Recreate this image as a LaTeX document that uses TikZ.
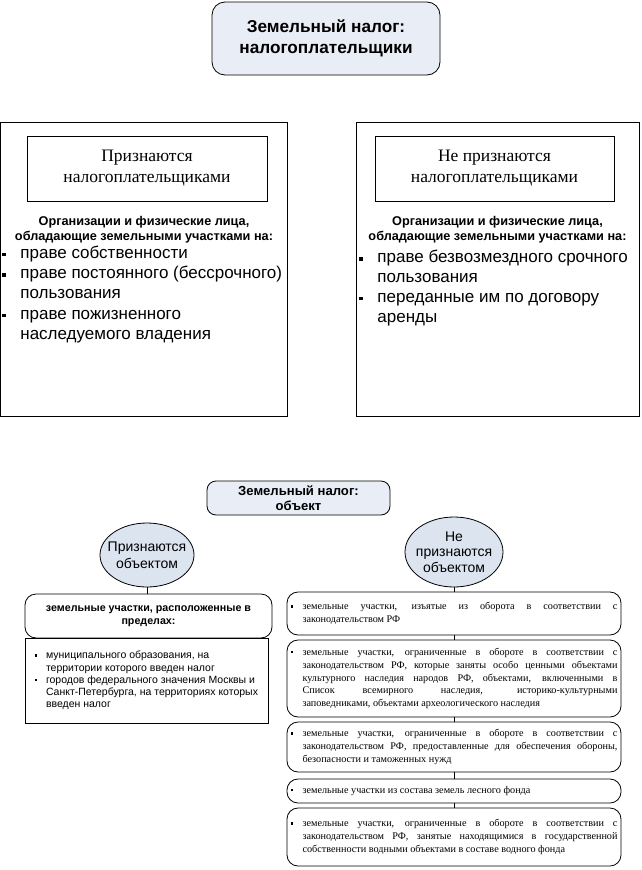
\documentclass[tikz,border=0pt]{standalone}
\usepackage{fontspec}
\setmainfont{Liberation Serif}
\setsansfont{Liberation Sans}
\usetikzlibrary{shapes.geometric}
\definecolor{boxfill}{HTML}{E9EDF5}
\definecolor{ellfill}{HTML}{DCE4F0}
\newcommand\fs[2]{\fontsize{#1}{#2}\selectfont}
\newcommand\bigsq{\rule[0.12em]{3.5pt}{3.5pt}}
\newcommand\smsq{\rule[0.2em]{2.4pt}{2.4pt}}
\newcommand\bl[1]{\makebox[18pt][l]{\bigsq}#1}
\newcommand\cl[1]{\hspace*{18pt}#1}
\newcommand\sbl[1]{\makebox[12pt][l]{\smsq}\makebox[315pt][s]{#1}}
\newcommand\scl[1]{\hspace*{12pt}\makebox[315pt][s]{#1}}
\newcommand\slast[1]{\hspace*{12pt}#1}
\newcommand\lbl[1]{\makebox[11pt][l]{\smsq}#1}
\newcommand\lcl[1]{\hspace*{11pt}#1}
\begin{document}
\begin{tikzpicture}[x=1pt,y=-1pt,line width=0.8pt,
  title/.style={draw,fill=boxfill,align=center,font=\sffamily\bfseries},
  plainbox/.style={draw,inner sep=0pt},
  headbox/.style={draw,align=center,inner sep=0pt},
  ell/.style={ellipse,draw,fill=ellfill,inner sep=0pt},
  rbox/.style={draw,rounded corners=11pt,minimum width=334pt,inner xsep=3pt,align=left,font=\fs{10.2}{12.8}},
  link/.style={line width=0.8pt}]
\useasboundingbox (0,0) rectangle (642,870);

% ---------- part 1 ----------
\node[title,rounded corners=13pt,minimum width=228pt,minimum height=73pt,font=\sffamily\bfseries\fs{17.2}{20.5}] (t1) at (326,38.5) {Земельный налог:\\налогоплательщики};

\node[plainbox,minimum width=287pt,minimum height=294pt] (L) at (143.5,269) {};
\node[headbox,minimum width=240pt,minimum height=65pt,font=\fs{17.5}{21}] (Lh) at (147,168.5) {Признаются\\налогоплательщиками};
\node[align=center,inner sep=0pt,font=\sffamily\bfseries\fs{12.7}{15}] (Lb) at (144,229.5) {Организации и физические лица,\\обладающие земельными участками на:};
\node[anchor=north west,inner sep=0pt,align=left,font=\sffamily\fs{17}{20.3}] (Ll) at (2,245.5) {\bl{праве собственности}\\\bl{праве постоянного (бессрочного)}\\\cl{пользования}\\\bl{праве пожизненного}\\\cl{наследуемого владения}};

\node[plainbox,minimum width=283pt,minimum height=294pt] (R) at (497.5,269) {};
\node[headbox,minimum width=239pt,minimum height=65pt,font=\fs{17.5}{21}] (Rh) at (494.5,168.5) {Не признаются\\налогоплательщиками};
\node[align=center,inner sep=0pt,font=\sffamily\bfseries\fs{12.7}{15}] (Rb) at (497.5,229.5) {Организации и физические лица,\\обладающие земельными участками на:};
\node[anchor=north west,inner sep=0pt,align=left,font=\sffamily\fs{17}{19.8}] (Rl) at (359,250) {\bl{праве безвозмездного срочного}\\\cl{пользования}\\\bl{переданные им по договору}\\\cl{аренды}};

% ---------- part 2 ----------
\node[title,rounded corners=9pt,minimum width=183pt,minimum height=34pt,font=\sffamily\bfseries\fs{13.1}{15}] (t2) at (298.5,498) {Земельный налог:\\объект};

\node[ell,minimum width=94pt,minimum height=64pt,label={[align=center,font=\sffamily\fs{14}{16.5}]center:Признаются\\объектом}] (e1) at (147,555) {};
\node[ell,minimum width=98pt,minimum height=70pt,label={[align=center,font=\sffamily\fs{14}{15.5}]center:Не\\признаются\\объектом}] (e2) at (454,552) {};

\node[draw,rounded corners=11pt,minimum width=247pt,minimum height=44pt,align=center,font=\sffamily\bfseries\fs{10.7}{13}] (lb1) at (148.5,616) {земельные участки, расположенные в\\пределах:};
\node[draw,minimum width=243pt,minimum height=85pt,align=left,inner xsep=4pt,font=\sffamily\fs{10.5}{12.3}] (lb2) at (146.5,680.5) {\lbl{муниципального образования, на}\\\lcl{территории которого введен налог}\\\lbl{городов федерального значения Москвы и}\\\lcl{Санкт-Петербурга, на территориях которых}\\\lcl{введен налог}\hspace*{30pt}};

\node[rbox,minimum height=43pt] (rb1) at (454,613.5) {\sbl{земельные участки, изъятые из оборота в соответствии с}\\\slast{законодательством РФ}};
\node[rbox,minimum height=77pt] (rb2) at (454,678.5) {\sbl{земельные участки, ограниченные в обороте в соответствии с}\\\scl{законодательством РФ, которые заняты особо ценными объектами}\\\scl{культурного наследия народов РФ, объектами, включенными в}\\\scl{Список всемирного наследия, историко-культурными}\\\slast{заповедниками, объектами археологического наследия}};
\node[rbox,minimum height=50pt] (rb3) at (454,747) {\sbl{земельные участки, ограниченные в обороте в соответствии с}\\\scl{законодательством РФ, предоставленные для обеспечения обороны,}\\\slast{безопасности и таможенных нужд}};
\node[rbox,minimum height=24pt] (rb4) at (454,791) {\makebox[12pt][l]{\smsq}\makebox[315pt][l]{земельные участки из состава земель лесного фонда}};
\node[rbox,minimum height=58pt] (rb5) at (454,837) {\sbl{земельные участки, ограниченные в обороте в соответствии с}\\\scl{законодательством РФ, занятые находящимися в государственной}\\\slast{собственности водными объектами в составе водного фонда}};

% connectors
\draw[link] (e1.south) -- (e1.south |- lb1.north);
\draw[link] (e2.south) -- (rb1.north);
\draw[link] (rb1.south) -- (rb2.north);
\draw[link] (rb2.south) -- (rb3.north);
\draw[link] (rb3.south) -- (rb4.north);
\draw[link] (rb4.south) -- (rb5.north);
\end{tikzpicture}
\end{document}
